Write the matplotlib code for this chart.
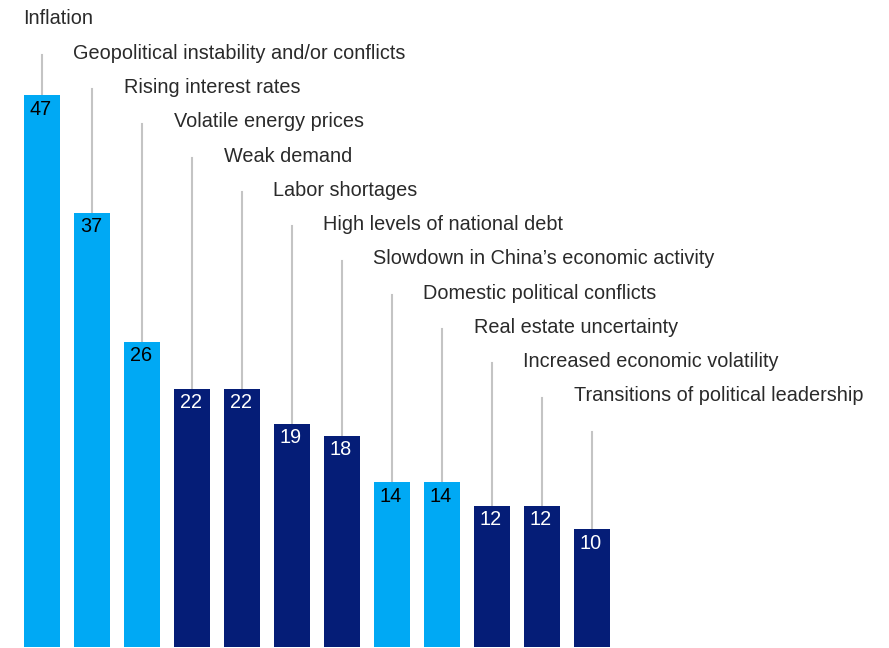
import numpy as np
import matplotlib
matplotlib.use("Agg")
import matplotlib.pyplot as plt

plt.rcParams['font.family'] = ['Liberation Sans', 'DejaVu Sans']

# data
categories = [
    'Inflation',
    'Geopolitical instability and/or conflicts',
    'Rising interest rates',
    'Volatile energy prices',
    'Weak demand',
    'Labor shortages',
    'High levels of national debt',
    "Slowdown in China\u2019s economic activity",
    'Domestic political conflicts',
    'Real estate uncertainty',
    'Increased economic volatility',
    'Transitions of political leadership',
]
values = [47, 37, 26, 22, 22, 19, 18, 14, 14, 12, 12, 10]
highlight = [1, 1, 1, 0, 0, 0, 0, 1, 1, 0, 0, 0]

light = '#00A9F4'
dark = '#051D77'
line_col = '#C4C4C4'

W, H = 889, 648
fig = plt.figure(figsize=(W / 100, H / 100), dpi=100)
ax = fig.add_axes([0, 0, 1, 1])

# pixel layout -> data units
pitch = 50.0          # px between bars
x0 = 42.0             # px, centre of first bar
ppu = 11.73           # px per percentage point
base = 646.7          # px from top for zero

ax.set_xlim(-x0 / pitch, (W - x0) / pitch)
ax.set_ylim(-(H - base) / ppu, base / ppu)
ax.axis('off')

x = np.arange(len(values))
bw = 36 / pitch
cols = [light if h else dark for h in highlight]
ax.bar(x, values, width=bw, color=cols, zorder=2)

lab_step = 34.27 / ppu
lab_top = (base - 19) / ppu
for i, (v, name) in enumerate(zip(values, categories)):
    ly = lab_top - i * lab_step
    # leader line from bar top up to just below its label
    ax.plot([i, i], [v, ly - 36 / ppu], color=line_col, lw=1.5, zorder=1)
    ax.text(i - bw / 2 - 0.01, ly, name, ha='left', va='center',
            fontsize=14.3, color='#2a2a2a')
    tc = 'black' if highlight[i] else 'white'
    ax.text(i - 0.02, v - 14 / ppu, str(v), ha='center', va='center',
            fontsize=14.3, color=tc, zorder=3)

fig.savefig('out.png', dpi=100)
